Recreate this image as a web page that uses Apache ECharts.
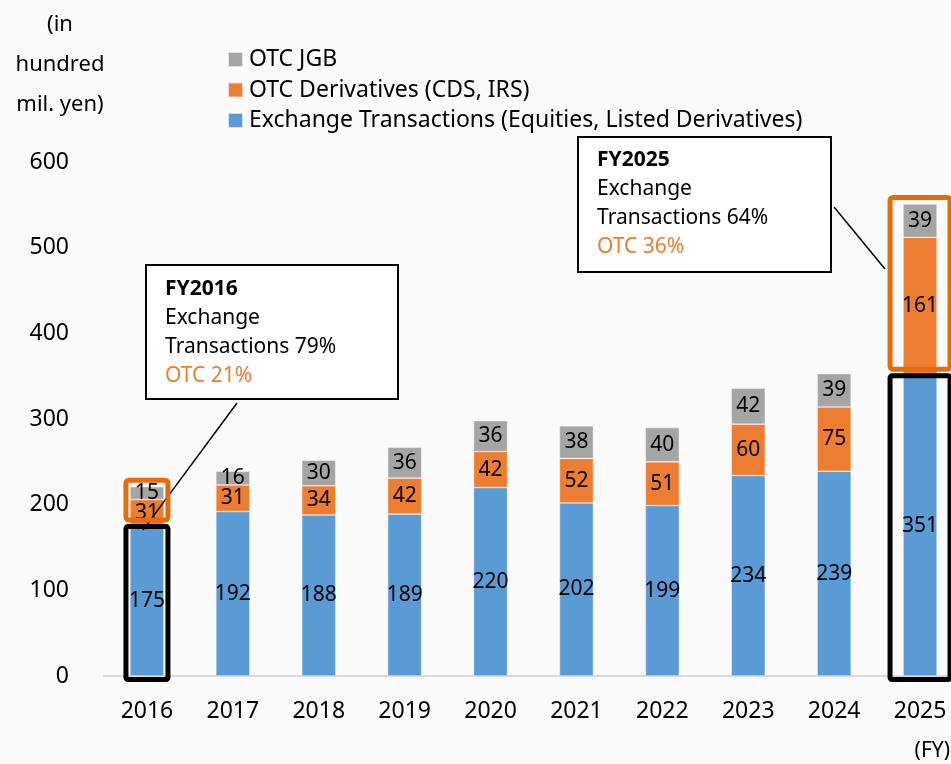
<!DOCTYPE html>
<html><head><meta charset="utf-8">
<script src="https://cdn.jsdelivr.net/npm/echarts@6/dist/echarts.min.js"></script>
<style>html,body{margin:0;padding:0;background:#fafafa}#c{width:951px;height:764px}</style>
</head><body><div id="c"></div>
<script>
const years = ['2016','2017','2018','2019','2020','2021','2022','2023','2024','2025'];
const exchange = [175,192,188,189,220,202,199,234,239,351];
const otcDeriv = [31,31,34,42,42,52,51,60,75,161];
const otcJgb = [15,16,30,36,36,38,40,42,39,39];
const yTicks = [0,100,200,300,400,500,600];
const names = ['Exchange Transactions (Equities, Listed Derivatives)','OTC Derivatives (CDS, IRS)','OTC JGB'];
const colors = ['#5b9bd5','#ed7d31','#a5a5a5'];
const FONT = "'Noto Sans', sans-serif";

const chart = echarts.init(document.getElementById('c'), null, {renderer:'canvas'});
function mk(i, data){
  return {name:names[i], type:'bar', stack:'t', data:data, barWidth:34,
    itemStyle:{color:colors[i], borderColor:'rgba(255,255,255,0.7)', borderWidth:0.6},
    label:{show:true, position:'inside', color:'#000', fontSize:21, fontFamily:FONT}};
}
chart.setOption({
  backgroundColor:'#fafafa',
  animation:false,
  grid:{left:104, width:859, top:162, bottom:88, containLabel:false, outerBoundsMode:'none'},
  legend:{orient:'vertical', left:227, top:48, padding:0, itemWidth:15, itemHeight:15, itemGap:7.5,
    data:[names[2],names[1],names[0]], textStyle:{fontSize:23, fontFamily:FONT, color:'#000', padding:[0,0,0,1]}, icon:'rect'},
  xAxis:{type:'category', data:years, axisTick:{show:false},
    axisLine:{show:true, lineStyle:{color:'#d9d9d9', width:2}},
    axisLabel:{fontSize:23, fontFamily:FONT, color:'#000', margin:24}},
  yAxis:{type:'value', min:yTicks[0], max:yTicks[yTicks.length-1], interval:100,
    splitLine:{show:false}, axisLine:{show:false}, axisTick:{show:false},
    axisLabel:{fontSize:23, fontFamily:FONT, color:'#000', margin:35}},
  series:[mk(0,exchange), mk(1,otcDeriv), mk(2,otcJgb)]
});

function px(i,v){return chart.convertToPixel({gridIndex:0},[i,v]);}
function highlight(i, half){
  const tot = exchange[i]+otcDeriv[i]+otcJgb[i];
  const cx = px(i,0)[0];
  const y0 = px(i,0)[1], yE = px(i,exchange[i])[1], yT = px(i,tot)[1];
  const hw = half - 2.5;
  return [
    {type:'rect', z:50, shape:{x:cx-hw, y:yT-6.5, width:hw*2, height:(yE-6)-(yT-6.5), r:3},
      style:{fill:'none', stroke:'#e46c0a', lineWidth:5}},
    {type:'rect', z:50, shape:{x:cx-hw, y:yE+0.5, width:hw*2, height:(y0+3.5)-(yE+0.5), r:2},
      style:{fill:'none', stroke:'#000', lineWidth:5}}
  ];
}
const c0 = px(0,exchange[0]);
const rich = {b:{fontWeight:'bold', fontSize:21, fontFamily:FONT, fill:'#000', lineHeight:29},
  n:{fontSize:21, fontFamily:FONT, fill:'#000', lineHeight:29},
  o:{fontSize:21, fontFamily:FONT, fill:'#ed7d31', lineHeight:29}};
const gfx = [
  {type:'text', x:60, y:5, style:{text:'(in\nhundred\nmil. yen)', fontSize:22, fontFamily:FONT, fill:'#000', textAlign:'center', lineHeight:40}},
  {type:'text', x:950, y:741, style:{text:'(FY)', fontSize:21, fontFamily:FONT, fill:'#000', textAlign:'right'}},
  {type:'rect', z:40, shape:{x:146, y:265, width:252, height:134}, style:{fill:'#fff', stroke:'#000', lineWidth:2}},
  {type:'text', z:41, x:165, y:275, style:{rich:rich, text:'{b|FY2016}\n{n|Exchange}\n{n|Transactions 79%}\n{o|OTC 21%}'}},
  {type:'line', z:45, shape:{x1:237, y1:403, x2:c0[0]-4, y2:c0[1]+4}, style:{stroke:'#000', lineWidth:1.5}},
  {type:'rect', z:40, shape:{x:578, y:137, width:253, height:135}, style:{fill:'#fff', stroke:'#000', lineWidth:2}},
  {type:'text', z:41, x:597, y:146, style:{rich:rich, text:'{b|FY2025}\n{n|Exchange}\n{n|Transactions 64%}\n{o|OTC 36%}'}},
  {type:'line', z:45, shape:{x1:834, y1:207, x2:885, y2:269}, style:{stroke:'#000', lineWidth:1.5}}
].concat(highlight(0,23.5), highlight(9,32.5));
chart.setOption({graphic:gfx});
</script></body></html>
